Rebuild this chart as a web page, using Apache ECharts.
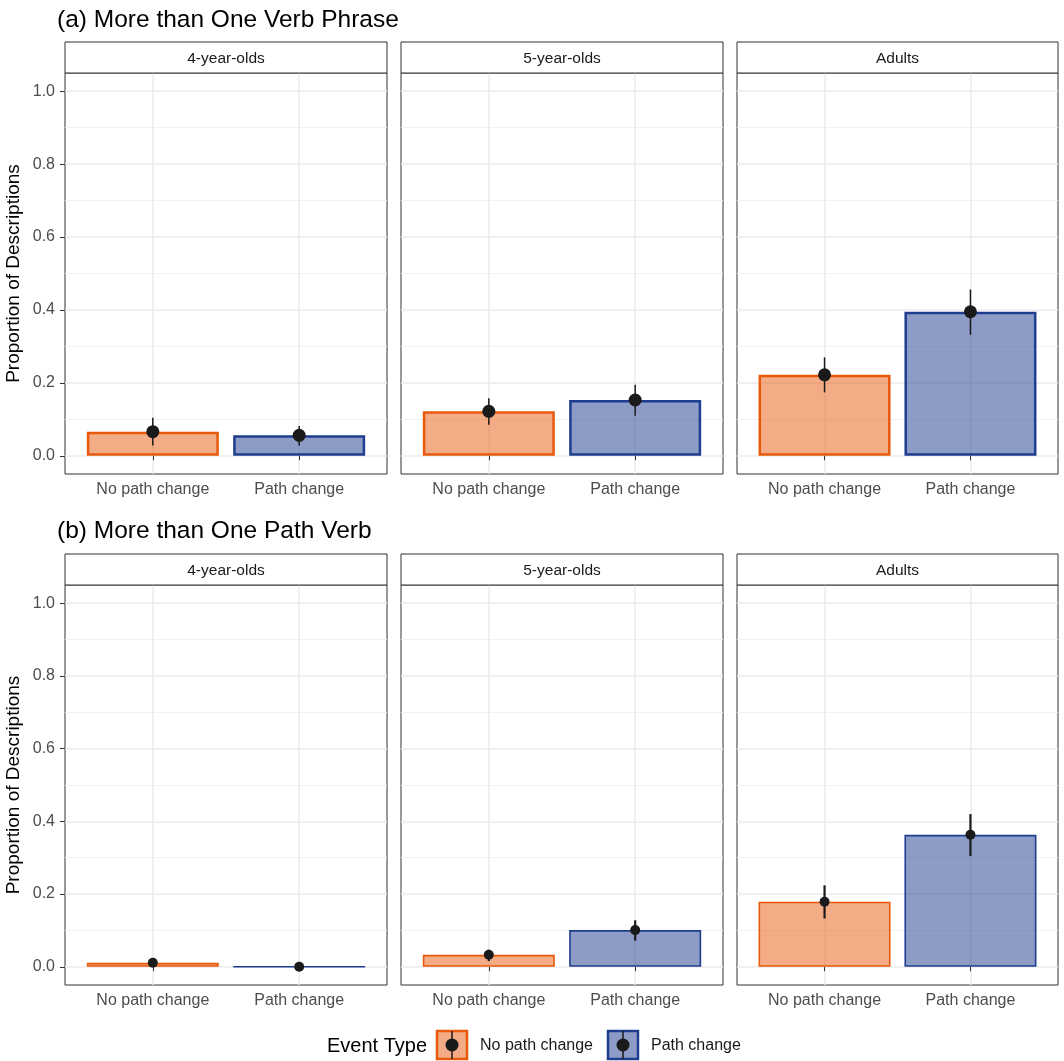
<!DOCTYPE html>
<html><head><meta charset="utf-8">
<script src="https://cdn.jsdelivr.net/npm/echarts@6/dist/echarts.min.js"></script>
<style>html,body{margin:0;padding:0;background:#fff;}#main{width:1064px;height:1061px;}</style>
</head><body><div id="main"></div>
<script>
// ---- data ----
const panels = ['4-year-olds', '5-year-olds', 'Adults'];
const categories = ['No path change', 'Path change'];
const yTicks = [0, 0.2, 0.4, 0.6, 0.8, 1.0];
const yMinorTicks = [0.1, 0.3, 0.5, 0.7, 0.9];
const titles = ['(a) More than One Verb Phrase', '(b) More than One Path Verb'];
const legendTitle = 'Event Type';
const yTitle = 'Proportion of Descriptions';

// (a) More than One Verb Phrase: [No path change, Path change] per panel
const verbPhraseMean = [[0.066, 0.056], [0.122, 0.153], [0.222, 0.395]];
const verbPhraseLow  = [[0.028, 0.028], [0.085, 0.110], [0.174, 0.332]];
const verbPhraseHigh = [[0.104, 0.082], [0.158, 0.195], [0.270, 0.456]];
// (b) More than One Path Verb
const pathVerbMean = [[0.011, 0.000], [0.033, 0.101], [0.179, 0.363]];
const pathVerbLow  = [[0.011, 0.000], [0.016, 0.072], [0.133, 0.305]];
const pathVerbHigh = [[0.011, 0.000], [0.047, 0.128], [0.224, 0.420]];

// ---- layout / style ----
const fills = ['rgba(232,89,12,0.5)', 'rgba(26,58,143,0.5)'];
const borders = ['#e8590c', '#1f3d8f'];
const FONT = '"Liberation Sans", Arial, Helvetica, sans-serif';
const cols = [{left: 65, width: 322}, {left: 401, width: 322}, {left: 737, width: 321}];
const rows = [
  {mean: verbPhraseMean, low: verbPhraseLow, high: verbPhraseHigh, top: 73, height: 401, stripTop: 42, titleY: 20, barBorder: 2.5, errW: 1.5, dot: 13},
  {mean: pathVerbMean, low: pathVerbLow, high: pathVerbHigh, top: 585, height: 400, stripTop: 554, titleY: 531, barBorder: 1.6, errW: 2.2, dot: 10}
];

const grid = [], xAxis = [], yAxis = [], series = [], graphic = [];
rows.forEach((row, r) => {
  graphic.push({type: 'text', x: 57, y: row.titleY, silent: true,
    style: {text: titles[r], fill: '#000', font: '24.5px ' + FONT, align: 'left', verticalAlign: 'middle'}});
  cols.forEach((col, c) => {
    const g = r * 3 + c;
    grid.push({left: col.left, top: row.top, width: col.width, height: row.height,
      show: true, borderColor: '#333', borderWidth: 1, backgroundColor: 'transparent'});
    graphic.push({type: 'rect', silent: true, z: 10,
      shape: {x: col.left, y: row.stripTop, width: col.width, height: row.top - row.stripTop},
      style: {fill: '#fff', stroke: '#333', lineWidth: 1}});
    graphic.push({type: 'text', silent: true, z: 11, x: col.left + col.width / 2, y: row.stripTop + (row.top - row.stripTop) / 2 + 1,
      style: {text: panels[c], fill: '#1a1a1a', font: '15.5px ' + FONT, align: 'center', verticalAlign: 'middle'}});
    xAxis.push({gridIndex: g, type: 'value', min: 0.4, max: 2.6,
      axisLine: {show: false},
      axisTick: {show: true, customValues: [1, 2], length: 4.5, lineStyle: {color: '#333', width: 1}},
      axisLabel: {customValues: [1, 2], formatter: v => categories[Math.round(v) - 1], color: '#4d4d4d', fontSize: 16, fontFamily: FONT, margin: 8},
      splitLine: {show: true, lineStyle: {color: '#ebebeb', width: 1.5}}});
    yAxis.push({gridIndex: g, type: 'value', min: -0.05, max: 1.05,
      axisLine: {show: false},
      axisTick: {show: c === 0, customValues: yTicks, length: 5, lineStyle: {color: '#333', width: 1}},
      axisLabel: {show: c === 0, customValues: yTicks, formatter: v => v.toFixed(1), color: '#4d4d4d', fontSize: 16, fontFamily: FONT, margin: 10},
      splitLine: {show: true, lineStyle: {color: '#ebebeb', width: 1.5}},
      name: c === 0 ? yTitle : '', nameLocation: 'middle', nameGap: 42,
      nameTextStyle: {fontSize: 19, color: '#000', fontFamily: FONT}});
    yAxis.push({gridIndex: g, type: 'value', min: -0.05, max: 1.05,
      axisLine: {show: false},
      axisTick: {show: false, customValues: yMinorTicks},
      axisLabel: {show: false, customValues: yMinorTicks},
      splitLine: {show: true, lineStyle: {color: '#f1f1f1', width: 1}}});
    series.push({type: 'bar', xAxisIndex: g, yAxisIndex: 2 * g, barWidth: 132, silent: true, z: 2,
      data: categories.map((_, i) => ({value: [i + 1, row.mean[c][i]],
        itemStyle: {color: fills[i], borderColor: borders[i], borderWidth: row.barBorder}}))});
    series.push({type: 'custom', xAxisIndex: g, yAxisIndex: 2 * g, silent: true, z: 3,
      encode: {x: 0, y: [1, 2]},
      data: categories.map((_, i) => [i + 1, row.low[c][i], row.high[c][i]]),
      renderItem: (params, api) => {
        const p1 = api.coord([api.value(0), api.value(1)]);
        const p2 = api.coord([api.value(0), api.value(2)]);
        return {type: 'line', shape: {x1: p1[0], y1: p1[1], x2: p2[0], y2: p2[1]},
          style: {stroke: '#1a1a1a', lineWidth: row.errW}};
      }});
    series.push({type: 'scatter', xAxisIndex: g, yAxisIndex: 2 * g, silent: true, z: 4,
      symbolSize: row.dot, itemStyle: {color: '#1a1a1a', opacity: 1},
      data: categories.map((_, i) => [i + 1, row.mean[c][i]])});
  });
});

// legend (drawn as graphics)
graphic.push({type: 'text', x: 327, y: 1046, silent: true,
  style: {text: legendTitle, fill: '#000', font: '20px ' + FONT, align: 'left', verticalAlign: 'middle'}});
const keyX = [437, 608], textX = [480, 651];
categories.forEach((cat, i) => {
  graphic.push({type: 'rect', silent: true, shape: {x: keyX[i], y: 1031, width: 30, height: 28},
    style: {fill: fills[i], stroke: borders[i], lineWidth: 2.5}});
  graphic.push({type: 'line', silent: true, shape: {x1: keyX[i] + 15, y1: 1031, x2: keyX[i] + 15, y2: 1059},
    style: {stroke: '#1a1a1a', lineWidth: 1.5}});
  graphic.push({type: 'circle', silent: true, shape: {cx: keyX[i] + 15, cy: 1045, r: 6.5},
    style: {fill: '#1a1a1a'}});
  graphic.push({type: 'text', x: textX[i], y: 1046, silent: true,
    style: {text: cat, fill: '#1a1a1a', font: '16px ' + FONT, align: 'left', verticalAlign: 'middle'}});
});

const chart = echarts.init(document.getElementById('main'), null, {renderer: 'canvas'});
chart.setOption({animation: false, backgroundColor: '#fff', grid, xAxis, yAxis, series, graphic});
</script></body></html>
